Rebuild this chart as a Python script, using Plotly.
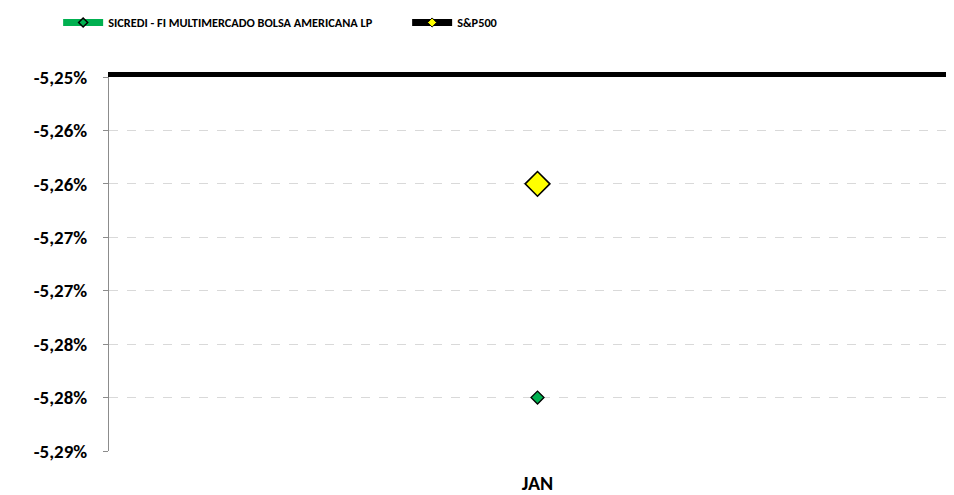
import plotly.graph_objects as go

categories = ["JAN"]
sicredi = [-5.280]
sp500 = [-5.260]
y_ticks = [-5.250, -5.255, -5.260, -5.265, -5.270, -5.275, -5.280, -5.285]
y_tick_labels = ["-5,25%", "-5,26%", "-5,26%", "-5,27%", "-5,27%", "-5,28%", "-5,28%", "-5,29%"]
series_names = ["SICREDI - FI MULTIMERCADO BOLSA AMERICANA LP", "S&P500"]

FONT = "Carlito, 'Liberation Sans Narrow', Lato, sans-serif"
GREEN = "#00b050"

fig = go.Figure()
# data traces
fig.add_trace(go.Scatter(
    x=categories, y=sicredi, name=series_names[0], mode="lines+markers", showlegend=False,
    line=dict(color=GREEN, width=7),
    marker=dict(symbol="diamond", size=10, color=GREEN, line=dict(color="black", width=1.3)),
))
fig.add_trace(go.Scatter(
    x=categories, y=sp500, name=series_names[1], mode="lines+markers", showlegend=False,
    line=dict(color="black", width=7),
    marker=dict(symbol="diamond", size=19, color="#ffff00", line=dict(color="black", width=1.6)),
))
# legend entries (small markers as in the reference legend)
fig.add_trace(go.Scatter(
    x=[None], y=[None], name=series_names[0], mode="lines+markers",
    line=dict(color=GREEN, width=7),
    marker=dict(symbol="diamond", size=7, color=GREEN, line=dict(color="black", width=1.5)),
))
fig.add_trace(go.Scatter(
    x=[None], y=[None], name=series_names[1], mode="lines+markers",
    line=dict(color="black", width=7),
    marker=dict(symbol="diamond", size=7, color="#ffff00", line=dict(color="black", width=1)),
))
# top axis line (category axis crossing at top)
fig.add_trace(go.Scatter(x=[None], y=[None], xaxis="x2", showlegend=False, hoverinfo="skip"))

fig.update_layout(
    width=946, height=487,
    margin=dict(l=101, r=0, t=69, b=34),
    paper_bgcolor="white", plot_bgcolor="white",
    font=dict(family=FONT, size=16, color="black"),
    showlegend=True,
    legend=dict(
        orientation="h", xref="container", yref="container", x=0.053, y=1.0,
        xanchor="left", yanchor="top",
        font=dict(family=FONT, size=12.3, color="black", weight="bold"),
        itemwidth=40, entrywidth=294, entrywidthmode="pixels",
        tracegroupgap=0,
    ),
    xaxis=dict(
        type="category", range=[-0.5, 0.486], showgrid=False, zeroline=False,
        showline=False, ticks="", ticklabelstandoff=18,
        tickfont=dict(family=FONT, size=20, color="black", weight="bold"),
    ),
    xaxis2=dict(
        overlaying="x", side="top", range=[-0.5, 0.486], showgrid=False, zeroline=False,
        showline=True, linecolor="black", linewidth=5, ticks="inside", ticklen=9,
        tickwidth=4, tickcolor="black", tickvals=[-0.5], showticklabels=False,
    ),
    yaxis=dict(
        range=[y_ticks[-1], y_ticks[0]], tickvals=y_ticks, ticktext=y_tick_labels,
        showgrid=True, gridcolor="#d9d9d9", griddash="dash", gridwidth=1,
        zeroline=False, showline=True, linecolor="#8c8c8c", linewidth=1,
        ticks="outside", ticklen=5, tickcolor="#8c8c8c", ticklabelstandoff=12,
        tickfont=dict(family=FONT, size=19, color="black", weight="bold"),
    ),
)

fig.write_html("out.html")
